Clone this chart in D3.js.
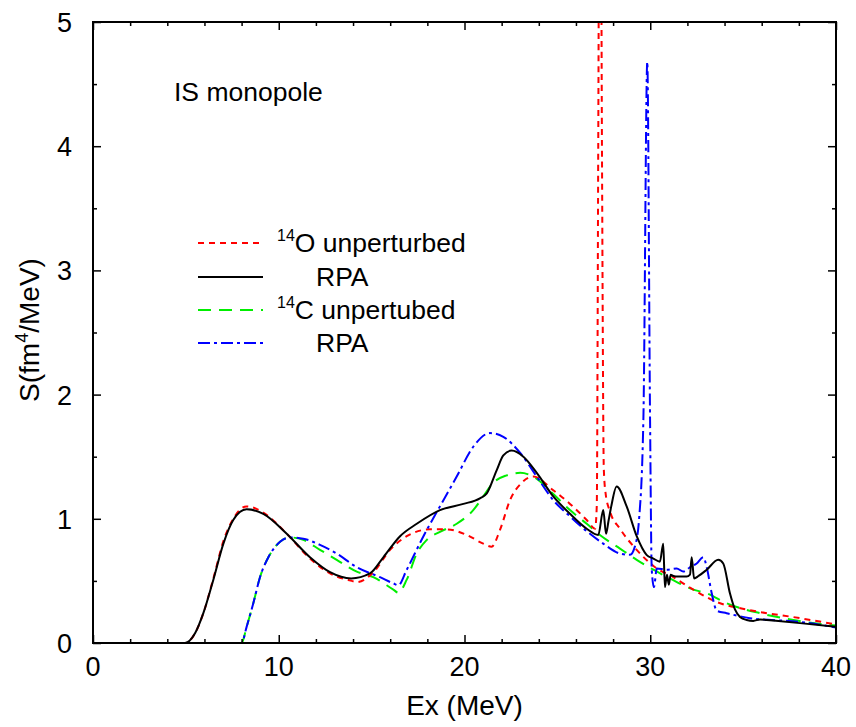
<!DOCTYPE html>
<html><head><meta charset="utf-8">
<script src="https://cdn.jsdelivr.net/npm/d3@7"></script>
<style>body{margin:0;background:#fff;} text{font-family:"Liberation Sans",Arial,sans-serif;}</style>
</head><body>
<script>
// ---- data ----
const o14UnpE = [0,4.6,4.95,5.5,5.94,6.48,7.02,7.55,8.27,9.17,10.43,11.68,12.76,13.93,14.19,15.1,15.99,16.89,18.14,19.04,20.12,21.01,21.46,21.91,22.45,23.08,23.7,24.78,25.68,26.58,27.03,27.12,27.2,27.3,27.4,27.5,27.6,27.83,28.37,29.27,30.17,31.24,32.32,33.58,35.19,38.06,40];
const o14UnpS = [0,0,0,0.08,0.24,0.52,0.82,1.0,1.10,1.05,0.88,0.68,0.56,0.50,0.49,0.57,0.75,0.86,0.915,0.915,0.87,0.80,0.775,0.91,1.15,1.29,1.34,1.23,1.12,0.99,0.92,1.1,4.0,8.0,4.0,1.4,1.2,1.06,0.92,0.75,0.62,0.53,0.43,0.33,0.27,0.20,0.15];
const o14RpaE = [0,4.6,4.95,5.5,5.94,6.48,7.02,7.55,8.27,9.17,10.43,11.68,12.76,13.9,14.91,15.63,16.53,17.43,18.68,19.94,20.83,21.2,21.73,22.09,22.54,23.17,23.89,24.78,25.68,26.58,27.2,27.47,27.62,27.75,27.9,28.19,28.73,29.27,29.8,30.17,30.52,30.7,30.79,30.9,31.0,31.1,31.24,31.5,31.96,32.14,32.23,32.36,32.6,33.04,33.66,33.93,34.29,34.56,34.83,35.19,35.55,35.91,36.27,38.06,40];
const o14RpaS = [0,0,0,0.08,0.24,0.51,0.80,0.99,1.076,1.04,0.88,0.69,0.57,0.52,0.56,0.69,0.86,0.96,1.07,1.12,1.165,1.205,1.39,1.51,1.55,1.50,1.37,1.18,1.04,0.92,0.87,1.07,0.88,0.98,1.1,1.26,1.10,0.86,0.71,0.68,0.655,0.80,0.45,0.55,0.47,0.55,0.54,0.535,0.535,0.55,0.69,0.52,0.54,0.59,0.67,0.64,0.40,0.27,0.21,0.185,0.178,0.19,0.185,0.16,0.13];
const c14UnpE = [0,7.9,8.0,8.27,8.63,8.99,9.44,10.07,10.6,11.32,12.22,13.12,14.2,15.09,16.17,16.44,16.89,17.43,17.97,18.68,19.58,20.47,21.01,21.55,22.27,23.0,23.7,24.78,25.68,26.58,27.29,28.37,29.27,30.17,31.06,32.32,33.04,34.11,35.91,37.7,40];
const c14UnpS = [0,0,0,0.13,0.32,0.53,0.69,0.815,0.85,0.83,0.75,0.67,0.575,0.53,0.43,0.405,0.51,0.72,0.83,0.895,0.96,1.07,1.18,1.29,1.35,1.37,1.34,1.2,1.07,0.96,0.87,0.76,0.67,0.59,0.52,0.43,0.40,0.32,0.24,0.185,0.14];
const c14RpaE = [0,7.9,8.0,8.27,8.63,8.99,9.44,10.07,10.6,11.32,12.22,13.12,14.2,15.45,16.17,16.44,16.89,17.79,18.68,19.58,20.47,21.37,22.09,23.0,23.89,24.78,25.68,26.58,27.47,28.37,28.91,29.18,29.4,29.63,29.84,29.99,30.08,30.2,30.35,30.88,31.42,31.78,32.14,32.5,32.86,33.04,33.31,33.58,34.11,35.37,38.06,40];
const c14RpaS = [0,0,0,0.13,0.32,0.53,0.69,0.815,0.85,0.84,0.79,0.72,0.61,0.53,0.48,0.465,0.59,0.86,1.10,1.34,1.58,1.69,1.66,1.53,1.34,1.15,1.02,0.90,0.80,0.72,0.71,0.78,1.0,1.8,4.68,1.8,0.59,0.45,0.6,0.59,0.60,0.575,0.61,0.64,0.69,0.61,0.40,0.26,0.24,0.20,0.17,0.125];
const xTicks = [0,10,20,30,40];
const yTicks = [0,1,2,3,4,5];
const seriesNames = ["O unperturbed","RPA","C unpertubed","RPA"];
const seriesSup = ["14","","14",""];
const seriesColors = ["#ff0000","#000000","#00ee00","#0000ff"];
const seriesDash = ["6,5","none","13,8","12,4,3,4"];

// ---- chart ----
const W=856,H=727;
const m={l:93,r:20,t:22,b:84};
const svg=d3.select("body").append("svg").attr("width",W).attr("height",H);
const x=d3.scaleLinear().domain([0,40]).range([m.l,W-m.r]);
const y=d3.scaleLinear().domain([0,5]).range([H-m.b,m.t]);

svg.append("clipPath").attr("id","clip").append("rect")
  .attr("x",x(0)).attr("y",y(5)).attr("width",x(40)-x(0)).attr("height",y(0)-y(5));

const series=[[o14UnpE,o14UnpS],[o14RpaE,o14RpaS],[c14UnpE,c14UnpS],[c14RpaE,c14RpaS]];
const line=d3.line().x(d=>x(d[0])).y(d=>y(d[1])).curve(d3.curveMonotoneX);
const g=svg.append("g").attr("clip-path","url(#clip)");
[2,0,3,1].forEach(i=>{
  const [E,S]=series[i];
  g.append("path").datum(E.map((e,k)=>[e,S[k]]))
   .attr("d",line).attr("fill","none").attr("stroke",seriesColors[i])
   .attr("stroke-width",2).attr("stroke-dasharray",seriesDash[i]);
});

// axes
const ax=(gen,tr)=>svg.append("g").attr("transform",tr).call(gen);
const styleAx=sel=>{sel.select(".domain").remove();sel.selectAll("line").attr("stroke","#000").attr("stroke-width",1.5);};
styleAx(ax(d3.axisTop(x).tickValues(xTicks).tickSize(8).tickFormat(""),`translate(0,${y(0)})`));
styleAx(ax(d3.axisBottom(x).tickValues(xTicks).tickSize(8).tickFormat(""),`translate(0,${y(5)})`));
styleAx(ax(d3.axisRight(y).tickValues(yTicks).tickSize(8).tickFormat(""),`translate(${x(0)},0)`));
styleAx(ax(d3.axisLeft(y).tickValues(yTicks).tickSize(8).tickFormat(""),`translate(${x(40)},0)`));
const xMinor=d3.range(0,41,2).filter(v=>v%10!==0), yMinor=d3.range(0.5,5,1);
styleAx(ax(d3.axisTop(x).tickValues(xMinor).tickSize(4).tickFormat(""),`translate(0,${y(0)})`));
styleAx(ax(d3.axisBottom(x).tickValues(xMinor).tickSize(4).tickFormat(""),`translate(0,${y(5)})`));
styleAx(ax(d3.axisRight(y).tickValues(yMinor).tickSize(4).tickFormat(""),`translate(${x(0)},0)`));
styleAx(ax(d3.axisLeft(y).tickValues(yMinor).tickSize(4).tickFormat(""),`translate(${x(40)},0)`));
svg.append("rect").attr("x",x(0)).attr("y",y(5)).attr("width",x(40)-x(0)).attr("height",y(0)-y(5))
  .attr("fill","none").attr("stroke","#000").attr("stroke-width",2);

// tick labels
svg.selectAll(".xl").data(xTicks).enter().append("text").attr("x",d=>x(d)).attr("y",y(0)+33)
  .attr("text-anchor","middle").attr("font-size",27).text(d=>d);
svg.selectAll(".yl").data(yTicks).enter().append("text").attr("x",x(0)-21).attr("y",d=>y(d)+10)
  .attr("text-anchor","end").attr("font-size",27).text(d=>d);

// axis titles
svg.append("text").attr("x",(x(0)+x(40))/2).attr("y",H-12).attr("text-anchor","middle").attr("font-size",28).text("Ex (MeV)");
const yt=svg.append("text").attr("transform",`translate(39,${330}) rotate(-90)`).attr("text-anchor","middle").attr("font-size",28);
yt.append("tspan").text("S(fm");
yt.append("tspan").attr("font-size",18).attr("dy",-11).text("4");
yt.append("tspan").attr("dy",11).text("/MeV)");

svg.append("text").attr("x",174).attr("y",101).attr("font-size",26.5).text("IS monopole");

// legend
const lg=svg.append("g");
const ly=[243,277,310,343];
seriesNames.forEach((n,i)=>{
  lg.append("line").attr("x1",198).attr("x2",263).attr("y1",ly[i]).attr("y2",ly[i])
    .attr("stroke",seriesColors[i]).attr("stroke-width",2).attr("stroke-dasharray",seriesDash[i]);
  const t=lg.append("text").attr("y",ly[i]+9).attr("font-size",26.5);
  if(seriesSup[i]){
    t.attr("x",277);
    t.append("tspan").attr("font-size",16).attr("dy",-11).text(seriesSup[i]);
    t.append("tspan").attr("dy",11).text(n);
  } else {
    t.attr("x",316).text(n);
  }
});
</script>
</body></html>
